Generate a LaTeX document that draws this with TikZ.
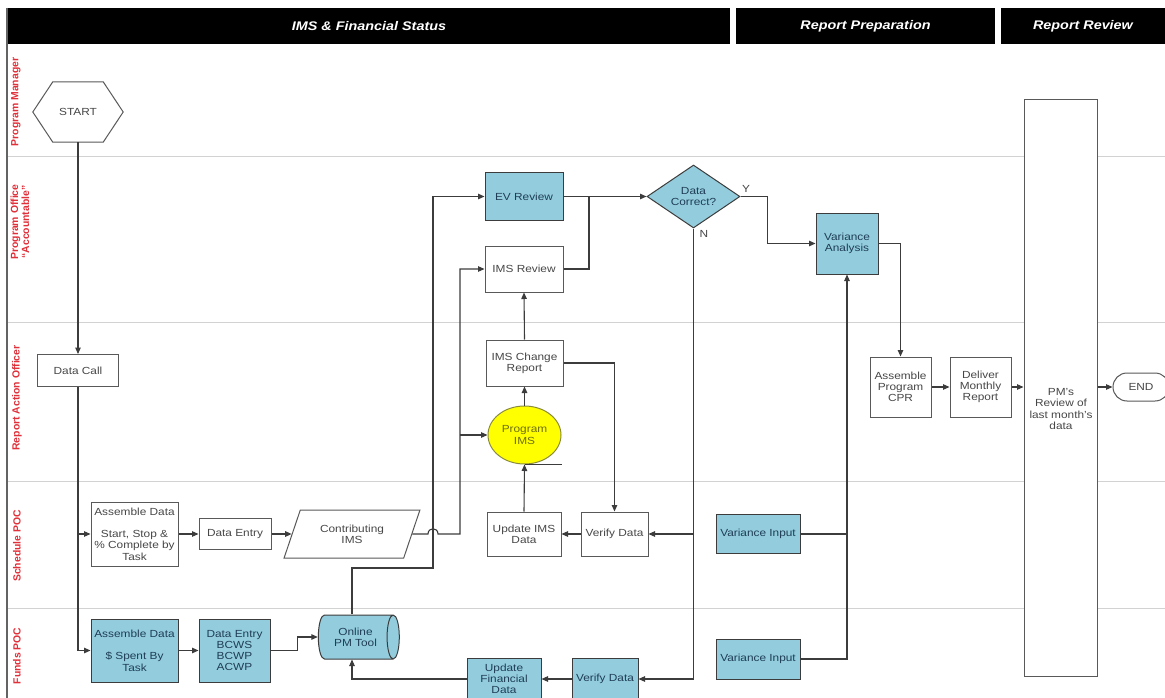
\documentclass[tikz,border=0pt]{standalone}
\usepackage{fontspec}
\setmainfont{Liberation Sans}[FakeStretch=1.15]
\newfontfamily\lanefont{Liberation Sans}
\usetikzlibrary{arrows.meta,shapes.geometric,shapes.misc,calc}

\definecolor{flowblue}{HTML}{93CDDD}
\definecolor{flowyellow}{HTML}{FFFF00}
\definecolor{olive}{HTML}{6E6E10}
\definecolor{lanered}{HTML}{E0303A}
\definecolor{boxtext}{HTML}{474747}
\definecolor{bluetext}{HTML}{1F3D55}
\definecolor{edge}{HTML}{3C3C3C}
\definecolor{laneline}{HTML}{D2D2D2}

\tikzset{
  txt/.style={text=boxtext, align=center, inner sep=0pt,
    font=\fontsize{10.3}{11.3}\selectfont},
  box/.style={txt, draw=edge!85, line width=1pt, fill=white, rectangle},
  bluebox/.style={box, fill=flowblue, draw=edge, text=bluetext},
  flow/.style={draw=edge, line width=1.1pt, -{Triangle[length=6.5pt,width=5.5pt]}},
  link/.style={draw=edge, line width=1.1pt},
  lanelbl/.style={text=lanered, rotate=90, align=center, inner sep=0pt,
    font=\lanefont\bfseries\fontsize{10.4}{11}\selectfont},
  hdrbar/.style={fill=black, text=white, inner sep=0pt, minimum height=36,
    font=\bfseries\itshape\fontsize{12.5}{14}\selectfont},
}

\begin{document}
\begin{tikzpicture}[x=1pt,y=-1pt]
\useasboundingbox (0,0) rectangle (1165,698);
\fill[white] (0,0) rectangle (1165,698);

% swimlane frame and lane dividers
\draw[laneline, line width=1pt] (8,157) -- (1165,157);
\draw[laneline, line width=1pt] (8,322) -- (1165,322);
\draw[laneline, line width=1pt] (8,481) -- (1165,481);
\draw[laneline, line width=1pt] (8,608) -- (1165,608);
\draw[edge!80, line width=1.6pt] (7,8) -- (7,698);

% phase headers
\node[hdrbar, minimum width=722] (phA) at (369,26) {IMS \& Financial Status};
\node[hdrbar, minimum width=259] (phB) at (865.5,26) {Report Preparation};
\node[hdrbar, minimum width=164] (phC) at (1083,26) {Report Review};

% lane titles
\node[lanelbl] (laneA) at (16,102) {Program Manager};
\node[lanelbl] (laneB) at (20,222) {Program Office\\“Accountable”};
\node[lanelbl] (laneC) at (17,398) {Report Action Officer};
\node[lanelbl] (laneD) at (17,546) {Schedule POC};
\node[lanelbl] (laneE) at (17,656) {Funds POC};

% start hexagon
\node[txt, minimum width=90, minimum height=60] (start) at (78,112) {START};
\draw[draw=edge!85, line width=1pt] (start.west) -- ([xshift=20pt]start.north west)
  -- ([xshift=-20pt]start.north east) -- (start.east)
  -- ([xshift=-20pt]start.south east) -- ([xshift=20pt]start.south west) -- cycle;

% process steps
\node[box, minimum width=81, minimum height=32] (datacall) at (78,370.5) {Data Call};
\node[box, minimum width=87, minimum height=64] (asmS) at (134.5,534)
  {Assemble Data\\[11.3pt]Start, Stop \&\\\% Complete by\\Task};
\node[box, minimum width=72, minimum height=31] (entryS) at (235,534) {Data Entry};
\node[box, trapezium, trapezium left angle=62, trapezium right angle=118,
  trapezium stretches=true, minimum width=136, minimum height=48] (contrib) at (352,534)
  {Contributing\\IMS};
\node[bluebox, minimum width=87, minimum height=63] (asmF) at (134.5,650.5)
  {Assemble Data\\[11.3pt]\$ Spent By\\Task};
\node[bluebox, minimum width=71, minimum height=63] (entryF) at (234.5,650.5)
  {Data Entry\\BCWS\\BCWP\\ACWP};
\node[bluebox, cylinder, shape border rotate=0, aspect=0.65,
  minimum width=44, minimum height=81] (pmtool) at (355.5,637) {Online\\PM Tool};

\node[bluebox, minimum width=78, minimum height=47] (evrev) at (524,196.5) {EV Review};
\node[box, minimum width=78, minimum height=46] (imsrev) at (524,269) {IMS Review};
\node[box, minimum width=77, minimum height=46] (imschg) at (524.5,363) {IMS Change\\Report};
\node[box, ellipse, fill=flowyellow, draw=olive!80, text=olive,
  minimum width=73, minimum height=58] (progims) at (524.5,435) {Program\\IMS};
\node[box, minimum width=74, minimum height=44] (updIMS) at (524,534) {Update IMS\\Data};
\node[box, minimum width=67, minimum height=44] (verS) at (614.5,534) {Verify Data};

\node[bluebox, diamond, aspect=1.48, minimum width=93, minimum height=63] (dc)
  at (693.5,196.5) {Data\\Correct?};
\node[txt] (ylbl) at (746,189) {Y};
\node[txt] (nlbl) at (704,234) {N};

\node[bluebox, minimum width=62, minimum height=61] (varA) at (847,243.5) {Variance\\Analysis};
\node[bluebox, minimum width=84, minimum height=39] (viS) at (758,534) {Variance Input};
\node[bluebox, minimum width=84, minimum height=40] (viF) at (758,659) {Variance Input};
\node[bluebox, minimum width=66, minimum height=42] (verF) at (605,679) {Verify Data};
\node[bluebox, minimum width=74, minimum height=42] (updF) at (504,679) {Update\\Financial\\Data};

\node[box, minimum width=61, minimum height=60] (asmCPR) at (900.5,387) {Assemble\\Program\\CPR};
\node[box, minimum width=61, minimum height=60] (deliver) at (980.5,387) {Deliver\\Monthly\\Report};
\node[box, minimum width=73, minimum height=576] (pmrev) at (1060.5,388) {};
\node[txt] (pmtext) at (1061,409) {PM's\\Review of\\last month's\\data};
\node[box, rounded rectangle, minimum width=56, minimum height=28] (end) at (1141,387) {END};

% routing columns
\coordinate (busE) at (433,0);
\coordinate (busI) at (460,0);
\coordinate (toolx) at (352,0);
\coordinate (rowT) at (0,568);
\coordinate (merge) at (589,196.5);

% connectors
\draw[flow] (start.south) -- (datacall.north);
\draw[flow] (datacall.south) |- (asmF.west);
\draw[flow] (datacall.south |- asmS.west) -- (asmS.west);
\draw[flow] (asmS.east) -- (entryS.west);
\draw[flow] (entryS.east) -- (contrib.left side);
\draw[flow] (asmF.east) -- (entryF.west);
\draw[flow] (entryF.east) -- ++(27,0) |- (pmtool.west);

% schedule feed into the IMS reviews, hopping over the tool line
\draw[flow] (contrib.right side) -- ($(contrib.right side -| busE)+(-5,0)$)
  .. controls ($(contrib.right side -| busE)+(-5,-7)$) and ($(contrib.right side -| busE)+(5,-7)$)
  .. ($(contrib.right side -| busE)+(5,0)$)
  -- (contrib.right side -| busI) |- (imsrev.west);
\draw[flow] (busI |- progims.west) -- (progims.west);

\draw[flow] (toolx |- pmtool.north) |- (busE |- rowT) |- (evrev.west);

\draw[flow] (progims.north) -- (imschg.south);
\draw[flow] (imschg.north) -- (imsrev.south);
\draw[flow] (imschg.east) -| (verS.north);
\draw[flow] (verS.west) -- (updIMS.east);
\draw[flow] (updIMS.north) -- (progims.south);
\draw[draw=edge, line width=0.8pt] (progims.south) -- ++(37,0);

\draw[flow] (evrev.east) -- (dc.west);
\draw[link] (imsrev.east) -| (merge);

\draw[flow] (dc.south) |- (verF.east);
\draw[flow] (dc.south |- verS.east) -- (verS.east);
\draw[flow] (verF.west) -- (updF.east);
\draw[flow] (updF.west) -| (toolx |- pmtool.south);

\draw[flow] (dc.east) -- ++(27,0) |- (varA.west);
\draw[flow] (varA.east) -| (asmCPR.north);
\draw[link] (viS.east) -- (viS.east -| varA.south);
\draw[flow] (viF.east) -| (varA.south);

\draw[flow] (asmCPR.east) -- (deliver.west);
\draw[flow] (deliver.east) -- (deliver.east -| pmrev.west);
\draw[flow] (pmrev.east |- end.west) -- (end.west);
\end{tikzpicture}
\end{document}
